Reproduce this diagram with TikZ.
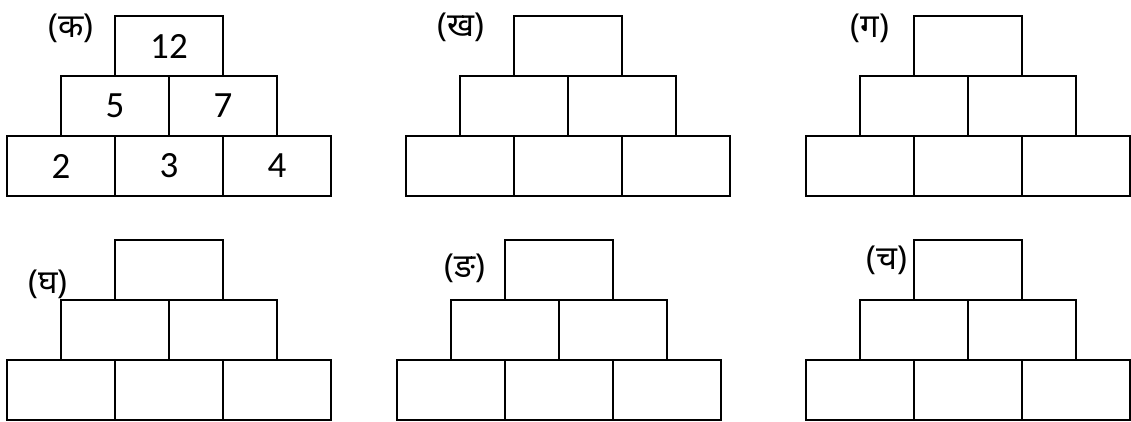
\documentclass[tikz,border=0pt]{standalone}
\usepackage{fontspec}
\setmainfont{Carlito}
\newfontfamily\deva[Script=Devanagari]{Noto Sans}
\tikzset{
  brick/.style={draw=black, line width=2pt, minimum width=108pt, minimum height=60pt, inner sep=0pt, font=\fontsize{37}{40}\selectfont},
  lbl/.style={inner sep=0pt, font=\deva\fontsize{33}{36}\selectfont}
}
\newcommand\pyramid[9]{%
  \node[brick] (#3t)  at (#1+162pt, -#2-30pt)  {#4};
  \node[brick] (#3m1) at (#1+108pt, -#2-90pt)  {#5};
  \node[brick] (#3m2) at (#1+216pt, -#2-90pt)  {#6};
  \node[brick] (#3b1) at (#1+54pt,  -#2-150pt) {#7};
  \node[brick] (#3b2) at (#1+162pt, -#2-150pt) {#8};
  \node[brick] (#3b3) at (#1+270pt, -#2-150pt) {#9};
}
\begin{document}
\begin{tikzpicture}[x=1pt,y=1pt]
\useasboundingbox[fill=white] (0,0) rectangle (1131,-422);
\pyramid{7pt}{16pt}{A}{12}{5}{7}{2}{3}{4}
\pyramid{406pt}{16pt}{B}{}{}{}{}{}{}
\pyramid{806pt}{16pt}{C}{}{}{}{}{}{}
\pyramid{7pt}{240pt}{D}{}{}{}{}{}{}
\pyramid{397pt}{240pt}{E}{}{}{}{}{}{}
\pyramid{806pt}{240pt}{F}{}{}{}{}{}{}
\node[lbl] (la) at (71,-28) {(क)};
\node[lbl] (lb) at (461,-27) {(ख)};
\node[lbl] (lc) at (870,-28) {(ग)};
\node[lbl] (ld) at (48,-284) {(घ)};
\node[lbl] (le) at (465,-268) {(ङ)};
\node[lbl] (lf) at (887,-260) {(च)};
\end{tikzpicture}
\end{document}
